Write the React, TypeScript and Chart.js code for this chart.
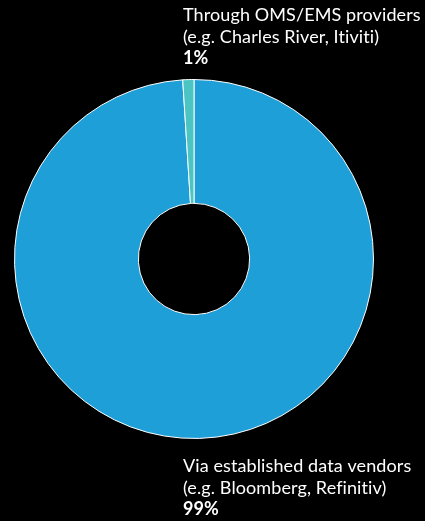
import React, { useEffect, useRef } from "react";
import { Chart, registerables } from "chart.js";

Chart.register(...registerables);

const categories = [
  "Via established data vendors (e.g. Bloomberg, Refinitiv)",
  "Through OMS/EMS providers (e.g. Charles River, Itiviti)",
];
const shares = [99, 1];
const colors = ["#1E9FD8", "#4BC4C4"];

const topLabelLines = ["Through OMS/EMS providers", "(e.g. Charles River, Itiviti)"];
const topLabelValue = "1%";
const bottomLabelLines = ["Via established data vendors", "(e.g. Bloomberg, Refinitiv)"];
const bottomLabelValue = "99%";

const FONT = "Lato, 'Open Sans', sans-serif";

const labelPlugin = {
  id: "sideLabels",
  afterDraw(chart: any) {
    const ctx = chart.ctx;
    ctx.save();
    ctx.fillStyle = "#ffffff";
    ctx.textBaseline = "alphabetic";
    ctx.textAlign = "left";
    try {
      ctx.letterSpacing = "0.1px";
    } catch (e) {}
    const x = 183;
    const drawBlock = (lines: string[], value: string, y0: number) => {
      ctx.font = `18px ${FONT}`;
      lines.forEach((l, i) => ctx.fillText(l, x, y0 + i * 21.5));
      ctx.font = `bold 18px ${FONT}`;
      ctx.fillText(value, x, y0 + lines.length * 21.5);
    };
    drawBlock(topLabelLines, topLabelValue, 21);
    drawBlock(bottomLabelLines, bottomLabelValue, 472);
    ctx.restore();
  },
};

export default function App() {
  const ref = useRef<HTMLCanvasElement | null>(null);
  useEffect(() => {
    document.body.style.margin = "0";
    document.body.style.background = "#000";
    const chart = new Chart(ref.current as HTMLCanvasElement, {
      type: "doughnut",
      data: {
        labels: categories,
        datasets: [
          {
            data: shares,
            backgroundColor: colors,
            borderColor: "#ffffff",
            borderWidth: 1,
          },
        ],
      },
      options: {
        animation: false,
        responsive: false,
        cutout: "31%",
        layout: { padding: { left: 14, right: 51, top: 79, bottom: 82 } },
        plugins: { legend: { display: false }, tooltip: { enabled: false } },
      },
      plugins: [labelPlugin],
    });
    return () => chart.destroy();
  }, []);
  return (
    <div style={{ width: 425, height: 521, background: "#000" }}>
      <canvas ref={ref} width={425} height={521} style={{ display: "block" }} />
    </div>
  );
}
